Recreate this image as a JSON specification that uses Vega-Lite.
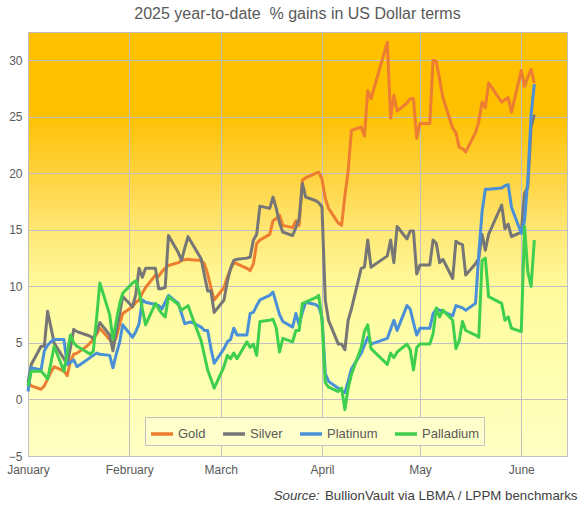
{
  "$schema": "https://vega.github.io/schema/vega-lite/v6.json",
  "width": 539,
  "height": 424,
  "autosize": {"type": "none"},
  "padding": {"left": 28, "top": 32, "right": 13, "bottom": 49},
  "background": "white",
  "title": {
    "text": "2025 year-to-date\u00a0 % gains in US Dollar terms",
    "font": "Liberation Sans",
    "fontSize": 16,
    "fontWeight": "normal",
    "color": "#595959",
    "anchor": "middle",
    "offset": 10
  },
  "config": {
    "font": "Liberation Sans",
    "view": {
      "stroke": "#BFBFC4",
      "fill": {
        "gradient": "linear",
        "x1": 0, "y1": 0, "x2": 0, "y2": 1,
        "stops": [
          {"offset": 0, "color": "#FFC000"},
          {"offset": 0.19, "color": "#FFC000"},
          {"offset": 0.33, "color": "#FFD23C"},
          {"offset": 0.47, "color": "#FFE877"},
          {"offset": 0.6, "color": "#FFFA9C"},
          {"offset": 0.8, "color": "#FFFFB0"},
          {"offset": 1, "color": "#FFFFC4"}
        ]
      }
    }
  },
  "resolve": {"axis": {"x": "independent"}},
  "layer": [
    {
      "data": {
        "values": [
          {"date": "2025-01-02", "Gold": 1.5, "Silver": 1.5, "Platinum": 0.7, "Palladium": 1.2},
          {"date": "2025-01-03", "Gold": 1.2, "Silver": 3.1, "Platinum": 2.8, "Palladium": 2.5},
          {"date": "2025-01-06", "Gold": 0.9, "Silver": 4.7, "Platinum": 2.6, "Palladium": 2.5},
          {"date": "2025-01-07", "Gold": 1.2, "Silver": 4.7, "Platinum": 4.3, "Palladium": 2.2},
          {"date": "2025-01-08", "Gold": 1.8, "Silver": 7.8, "Platinum": 4.8, "Palladium": 1.8},
          {"date": "2025-01-09", "Gold": 2.4, "Silver": 6.4, "Platinum": 5.1, "Palladium": 3.2},
          {"date": "2025-01-10", "Gold": 2.9, "Silver": 5.0, "Platinum": 5.3, "Palladium": 4.7},
          {"date": "2025-01-13", "Gold": 2.5, "Silver": 3.6, "Platinum": 5.3, "Palladium": 2.5},
          {"date": "2025-01-14", "Gold": 2.1, "Silver": 3.1, "Platinum": 3.1, "Palladium": 4.1},
          {"date": "2025-01-15", "Gold": 3.4, "Silver": 4.6, "Platinum": 3.3, "Palladium": 5.7},
          {"date": "2025-01-16", "Gold": 4.0, "Silver": 6.2, "Platinum": 3.5, "Palladium": 5.0},
          {"date": "2025-01-17", "Gold": 4.1, "Silver": 6.0, "Platinum": 2.9, "Palladium": 4.7},
          {"date": "2025-01-20", "Gold": 4.7, "Silver": 5.7, "Platinum": 3.5, "Palladium": 4.2},
          {"date": "2025-01-21", "Gold": 5.0, "Silver": 5.6, "Platinum": 3.7, "Palladium": 4.0},
          {"date": "2025-01-22", "Gold": 5.3, "Silver": 5.4, "Platinum": 3.9, "Palladium": 4.3},
          {"date": "2025-01-23", "Gold": 5.8, "Silver": 6.0, "Platinum": 4.1, "Palladium": 7.2},
          {"date": "2025-01-24", "Gold": 6.3, "Silver": 6.8, "Platinum": 4.0, "Palladium": 10.3},
          {"date": "2025-01-27", "Gold": 5.3, "Silver": 5.7, "Platinum": 3.9, "Palladium": 7.5},
          {"date": "2025-01-28", "Gold": 4.9, "Silver": 4.3, "Platinum": 2.8, "Palladium": 5.3},
          {"date": "2025-01-29", "Gold": 5.5, "Silver": 6.0, "Platinum": 4.0, "Palladium": 6.9},
          {"date": "2025-01-30", "Gold": 6.6, "Silver": 7.5, "Platinum": 5.0, "Palladium": 8.4},
          {"date": "2025-01-31", "Gold": 7.6, "Silver": 9.1, "Platinum": 6.6, "Palladium": 9.4},
          {"date": "2025-02-03", "Gold": 8.2, "Silver": 8.2, "Platinum": 5.5, "Palladium": 10.3},
          {"date": "2025-02-04", "Gold": 8.6, "Silver": 9.3, "Platinum": 6.0, "Palladium": 10.5},
          {"date": "2025-02-05", "Gold": 8.8, "Silver": 11.6, "Platinum": 6.7, "Palladium": 9.6},
          {"date": "2025-02-06", "Gold": 9.4, "Silver": 10.8, "Platinum": 8.8, "Palladium": 8.0},
          {"date": "2025-02-07", "Gold": 9.9, "Silver": 11.6, "Platinum": 8.6, "Palladium": 6.6},
          {"date": "2025-02-10", "Gold": 11.0, "Silver": 11.6, "Platinum": 8.4, "Palladium": 8.5},
          {"date": "2025-02-11", "Gold": 10.9, "Silver": 9.8, "Platinum": 8.3, "Palladium": 8.0},
          {"date": "2025-02-12", "Gold": 11.3, "Silver": 9.8, "Platinum": 8.0, "Palladium": 7.6},
          {"date": "2025-02-13", "Gold": 11.6, "Silver": 9.9, "Platinum": 8.6, "Palladium": 7.3},
          {"date": "2025-02-14", "Gold": 11.85, "Silver": 14.5, "Platinum": 9.2, "Palladium": 9.1},
          {"date": "2025-02-17", "Gold": 12.1, "Silver": 13.0, "Platinum": 8.5, "Palladium": 8.4},
          {"date": "2025-02-18", "Gold": 12.3, "Silver": 12.3, "Platinum": 7.6, "Palladium": 7.9},
          {"date": "2025-02-19", "Gold": 12.35, "Silver": 13.4, "Platinum": 6.7, "Palladium": 8.1},
          {"date": "2025-02-20", "Gold": 12.4, "Silver": 14.4, "Platinum": 6.8, "Palladium": 8.3},
          {"date": "2025-02-21", "Gold": 12.35, "Silver": 13.9, "Platinum": 6.85, "Palladium": 7.5},
          {"date": "2025-02-24", "Gold": 12.3, "Silver": 12.45, "Platinum": 6.4, "Palladium": 5.2},
          {"date": "2025-02-25", "Gold": 12.0, "Silver": 11.0, "Platinum": 6.1, "Palladium": 3.9},
          {"date": "2025-02-26", "Gold": 11.1, "Silver": 9.6, "Platinum": 6.1, "Palladium": 2.6},
          {"date": "2025-02-27", "Gold": 9.9, "Silver": 9.6, "Platinum": 4.5, "Palladium": 1.8},
          {"date": "2025-02-28", "Gold": 8.8, "Silver": 7.7, "Platinum": 3.2, "Palladium": 1.0},
          {"date": "2025-03-03", "Gold": 9.9, "Silver": 8.8, "Platinum": 4.5, "Palladium": 2.9},
          {"date": "2025-03-04", "Gold": 10.8, "Silver": 10.4, "Platinum": 5.1, "Palladium": 3.9},
          {"date": "2025-03-05", "Gold": 11.5, "Silver": 11.6, "Platinum": 5.3, "Palladium": 3.6},
          {"date": "2025-03-06", "Gold": 12.1, "Silver": 12.3, "Platinum": 6.3, "Palladium": 4.1},
          {"date": "2025-03-07", "Gold": 12.0, "Silver": 12.4, "Platinum": 5.7, "Palladium": 3.6},
          {"date": "2025-03-10", "Gold": 11.6, "Silver": 12.5, "Platinum": 5.7, "Palladium": 5.1},
          {"date": "2025-03-11", "Gold": 11.4, "Silver": 12.6, "Platinum": 7.6, "Palladium": 4.6},
          {"date": "2025-03-12", "Gold": 12.0, "Silver": 14.1, "Platinum": 7.7, "Palladium": 4.9},
          {"date": "2025-03-13", "Gold": 13.8, "Silver": 14.6, "Platinum": 8.3, "Palladium": 3.9},
          {"date": "2025-03-14", "Gold": 14.1, "Silver": 17.1, "Platinum": 8.8, "Palladium": 6.9},
          {"date": "2025-03-17", "Gold": 14.6, "Silver": 16.9, "Platinum": 9.2, "Palladium": 7.0},
          {"date": "2025-03-18", "Gold": 15.8, "Silver": 17.9, "Platinum": 9.5, "Palladium": 7.1},
          {"date": "2025-03-19", "Gold": 16.0, "Silver": 16.9, "Platinum": 8.5, "Palladium": 6.3},
          {"date": "2025-03-20", "Gold": 16.3, "Silver": 15.6, "Platinum": 7.5, "Palladium": 4.2},
          {"date": "2025-03-21", "Gold": 15.4, "Silver": 14.8, "Platinum": 6.9, "Palladium": 5.4},
          {"date": "2025-03-24", "Gold": 15.2, "Silver": 14.5, "Platinum": 6.4, "Palladium": 5.1},
          {"date": "2025-03-25", "Gold": 15.8, "Silver": 15.2, "Platinum": 7.6, "Palladium": 6.1},
          {"date": "2025-03-26", "Gold": 15.4, "Silver": 16.0, "Platinum": 6.6, "Palladium": 6.1},
          {"date": "2025-03-27", "Gold": 19.4, "Silver": 19.1, "Platinum": 7.7, "Palladium": 8.5},
          {"date": "2025-03-28", "Gold": 19.6, "Silver": 17.9, "Platinum": 8.6, "Palladium": 8.6},
          {"date": "2025-03-31", "Gold": 20.0, "Silver": 17.6, "Platinum": 8.4, "Palladium": 9.0},
          {"date": "2025-04-01", "Gold": 20.1, "Silver": 17.4, "Platinum": 8.2, "Palladium": 9.2},
          {"date": "2025-04-02", "Gold": 19.5, "Silver": 17.0, "Platinum": 7.3, "Palladium": 7.0},
          {"date": "2025-04-03", "Gold": 17.8, "Silver": 8.8, "Platinum": 2.3, "Palladium": 1.5},
          {"date": "2025-04-04", "Gold": 16.9, "Silver": 7.0, "Platinum": 1.6, "Palladium": 1.1},
          {"date": "2025-04-07", "Gold": 15.6, "Silver": 4.9, "Platinum": 1.0, "Palladium": 0.7},
          {"date": "2025-04-08", "Gold": 15.4, "Silver": 4.9, "Platinum": 0.8, "Palladium": 1.0},
          {"date": "2025-04-09", "Gold": 18.0, "Silver": 4.4, "Platinum": 0.6, "Palladium": -0.9},
          {"date": "2025-04-10", "Gold": 20.2, "Silver": 7.0, "Platinum": 1.6, "Palladium": 1.0},
          {"date": "2025-04-11", "Gold": 23.8, "Silver": 8.0, "Platinum": 2.7, "Palladium": 2.2},
          {"date": "2025-04-14", "Gold": 24.1, "Silver": 11.6, "Platinum": 4.1, "Palladium": 4.6},
          {"date": "2025-04-15", "Gold": 23.3, "Silver": 11.7, "Platinum": 4.8, "Palladium": 6.0},
          {"date": "2025-04-16", "Gold": 27.3, "Silver": 14.1, "Platinum": 5.5, "Palladium": 6.6},
          {"date": "2025-04-17", "Gold": 26.6, "Silver": 11.7, "Platinum": 4.9, "Palladium": 4.5},
          {"date": "2025-04-22", "Gold": 31.6, "Silver": 12.7, "Platinum": 5.4, "Palladium": 3.1},
          {"date": "2025-04-23", "Gold": 24.9, "Silver": 14.1, "Platinum": 6.2, "Palladium": 4.1},
          {"date": "2025-04-24", "Gold": 26.9, "Silver": 12.1, "Platinum": 7.0, "Palladium": 3.7},
          {"date": "2025-04-25", "Gold": 25.5, "Silver": 15.3, "Platinum": 6.1, "Palladium": 4.2},
          {"date": "2025-04-28", "Gold": 26.2, "Silver": 14.2, "Platinum": 8.3, "Palladium": 4.9},
          {"date": "2025-04-29", "Gold": 26.6, "Silver": 14.9, "Platinum": 8.0, "Palladium": 4.4},
          {"date": "2025-04-30", "Gold": 26.6, "Silver": 14.9, "Platinum": 6.8, "Palladium": 2.6},
          {"date": "2025-05-01", "Gold": 23.1, "Silver": 11.1, "Platinum": 5.7, "Palladium": 4.6},
          {"date": "2025-05-02", "Gold": 24.4, "Silver": 11.9, "Platinum": 6.3, "Palladium": 4.9},
          {"date": "2025-05-05", "Gold": 24.4, "Silver": 11.9, "Platinum": 6.3, "Palladium": 4.9},
          {"date": "2025-05-06", "Gold": 30.0, "Silver": 14.1, "Platinum": 7.6, "Palladium": 5.8},
          {"date": "2025-05-07", "Gold": 29.9, "Silver": 13.8, "Platinum": 8.0, "Palladium": 8.1},
          {"date": "2025-05-08", "Gold": 28.3, "Silver": 12.1, "Platinum": 7.9, "Palladium": 7.3},
          {"date": "2025-05-09", "Gold": 26.7, "Silver": 12.4, "Platinum": 7.8, "Palladium": 7.9},
          {"date": "2025-05-12", "Gold": 24.0, "Silver": 10.7, "Platinum": 7.4, "Palladium": 7.0},
          {"date": "2025-05-13", "Gold": 23.6, "Silver": 14.0, "Platinum": 8.3, "Palladium": 4.5},
          {"date": "2025-05-14", "Gold": 22.3, "Silver": 13.8, "Platinum": 8.2, "Palladium": 5.2},
          {"date": "2025-05-15", "Gold": 22.2, "Silver": 13.7, "Platinum": 8.1, "Palladium": 6.9},
          {"date": "2025-05-16", "Gold": 21.9, "Silver": 11.0, "Platinum": 7.9, "Palladium": 6.1},
          {"date": "2025-05-19", "Gold": 23.6, "Silver": 12.0, "Platinum": 8.5, "Palladium": 5.7},
          {"date": "2025-05-20", "Gold": 24.6, "Silver": 12.5, "Platinum": 12.9, "Palladium": 5.5},
          {"date": "2025-05-21", "Gold": 26.3, "Silver": 14.6, "Platinum": 16.6, "Palladium": 12.3},
          {"date": "2025-05-22", "Gold": 25.8, "Silver": 13.2, "Platinum": 18.6, "Palladium": 12.5},
          {"date": "2025-05-23", "Gold": 28.0, "Silver": 14.6, "Platinum": 18.6, "Palladium": 9.1},
          {"date": "2025-05-27", "Gold": 26.3, "Silver": 17.2, "Platinum": 18.7, "Palladium": 8.5},
          {"date": "2025-05-28", "Gold": 26.5, "Silver": 15.1, "Platinum": 18.9, "Palladium": 7.0},
          {"date": "2025-05-29", "Gold": 26.7, "Silver": 15.5, "Platinum": 19.0, "Palladium": 7.3},
          {"date": "2025-05-30", "Gold": 25.4, "Silver": 14.4, "Platinum": 17.0, "Palladium": 6.3},
          {"date": "2025-06-02", "Gold": 29.1, "Silver": 14.8, "Platinum": 14.7, "Palladium": 6.0},
          {"date": "2025-06-03", "Gold": 27.7, "Silver": 18.2, "Platinum": 15.8, "Palladium": 15.3},
          {"date": "2025-06-04", "Gold": 28.5, "Silver": 18.8, "Platinum": 19.4, "Palladium": 11.3},
          {"date": "2025-06-05", "Gold": 29.2, "Silver": 24.1, "Platinum": 25.2, "Palladium": 10.0},
          {"date": "2025-06-06", "Gold": 28.0, "Silver": 25.2, "Platinum": 27.9, "Palladium": 14.1}
        ]
      },
      "transform": [
        {"fold": ["Gold", "Silver", "Platinum", "Palladium"], "as": ["metal", "pct"]}
      ],
      "mark": {"type": "line", "strokeWidth": 3, "strokeJoin": "round"},
      "encoding": {
        "x": {
          "field": "date",
          "type": "temporal",
          "scale": {
            "type": "utc",
            "domain": [
              {"year": 2025, "month": 1, "date": 2, "utc": true},
              {"year": 2025, "month": 6, "date": 16, "utc": true}
            ]
          },
          "axis": {
            "orient": "bottom",
            "values": [
              {"year": 2025, "month": 1, "date": 2, "utc": true},
              {"year": 2025, "month": 2, "date": 2, "utc": true},
              {"year": 2025, "month": 3, "date": 2, "utc": true},
              {"year": 2025, "month": 4, "date": 2, "utc": true},
              {"year": 2025, "month": 5, "date": 2, "utc": true},
              {"year": 2025, "month": 6, "date": 2, "utc": true}
            ],
            "format": "%B",
            "labelFlush": false,
            "labelAlign": "center",
            "labelFontSize": 12,
            "labelColor": "#595959",
            "labelPadding": 8,
            "ticks": false,
            "domain": false,
            "grid": true,
            "gridColor": "#BFBFC4",
            "gridWidth": 1,
            "title": "BullionVault via LBMA / LPPM benchmarks",
            "titleFontSize": 13.3,
            "titleFontWeight": "normal",
            "titleColor": "#404040",
            "titleAnchor": "end",
            "titleAlign": "right",
            "titleBaseline": "alphabetic",
            "titleX": 549,
            "titleY": 43
          }
        },
        "y": {
          "field": "pct",
          "type": "quantitative",
          "scale": {"domain": [-5, 32.5], "nice": false, "zero": false},
          "axis": {
            "values": [-5, 0, 5, 10, 15, 20, 25, 30],
            "labelFontSize": 12,
            "labelColor": "#595959",
            "labelPadding": 6,
            "ticks": false,
            "domain": false,
            "grid": true,
            "gridColor": "#BFBFC4",
            "gridWidth": 1,
            "title": null
          }
        },
        "color": {
          "field": "metal",
          "type": "nominal",
          "scale": {
            "domain": ["Gold", "Silver", "Platinum", "Palladium"],
            "range": ["#ED7D31", "#767676", "#4A90D9", "#3FCF4F"]
          },
          "legend": {
            "title": null,
            "orient": "none",
            "legendX": 117,
            "legendY": 385,
            "direction": "horizontal",
            "columns": 4,
            "gridAlign": "none",
            "columnPadding": 10,
            "symbolType": "stroke",
            "symbolSize": 484,
            "symbolStrokeWidth": 3.5,
            "labelFontSize": 13,
            "labelColor": "#595959",
            "labelOffset": 3,
            "padding": 4,
            "fillColor": "#FFFFCC",
            "strokeColor": "#BFBFC4"
          }
        }
      }
    },
    {
      "data": {"values": []},
      "mark": "line",
      "encoding": {
        "x": {
          "field": "date",
          "type": "temporal",
          "scale": {
            "type": "utc",
            "domain": [
              {"year": 2025, "month": 1, "date": 2, "utc": true},
              {"year": 2025, "month": 6, "date": 16, "utc": true}
            ]
          },
          "axis": {
            "orient": "bottom",
            "labels": false,
            "ticks": false,
            "domain": false,
            "grid": false,
            "title": "Source:",
            "titleFontSize": 13.3,
            "titleFontWeight": "normal",
            "titleFontStyle": "italic",
            "titleColor": "#404040",
            "titleAnchor": "end",
            "titleAlign": "right",
            "titleBaseline": "alphabetic",
            "titleX": 291,
            "titleY": 43
          }
        }
      }
    }
  ]
}
